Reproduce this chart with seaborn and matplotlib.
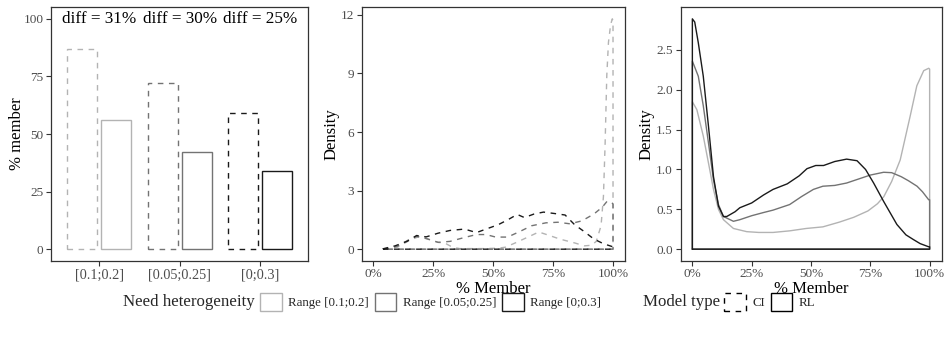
import matplotlib
matplotlib.use("Agg")
import matplotlib.pyplot as plt
import seaborn as sns
import pandas as pd
import numpy as np
from matplotlib.patches import Patch

# ---------------- data ----------------
ranges = ["[0.1;0.2]", "[0.05;0.25]", "[0;0.3]"]
range_labels = ["Range [0.1;0.2]", "Range [0.05;0.25]", "Range [0;0.3]"]
models = ["CI", "RL"]
pct_CI = [87, 72, 59]
pct_RL = [56, 42, 34]

# CI densities (panel 2)
ci_light_x = [4, 10, 15, 19, 23, 27, 30, 33, 36, 40, 46, 52, 55, 59, 65, 69, 73, 78, 84, 88, 91, 93, 95, 96, 96.7, 97.4, 98.1, 99, 99.7, 100]
ci_light_y = [0.0, 0.1, 0.45, 0.65, 0.5, 0.35, 0.3, 0.1, 0.03, 0.03, 0.03, 0.05, 0.1, 0.31, 0.65, 0.88, 0.72, 0.51, 0.32, 0.17, 0.2, 0.4, 1.2, 2.7, 5.4, 8.9, 10.6, 11.5, 11.8, 11.7]
ci_mid_x = [4, 10, 15, 18, 22, 27, 32, 38, 43, 47, 51, 56, 61, 66, 72, 77, 82, 87, 92, 95.5, 97.5, 99.5, 100]
ci_mid_y = [0.0, 0.15, 0.5, 0.65, 0.55, 0.35, 0.4, 0.6, 0.75, 0.75, 0.62, 0.62, 0.9, 1.2, 1.35, 1.38, 1.3, 1.45, 1.8, 2.15, 2.45, 2.4, 2.3]
ci_dark_x = [4, 9, 14, 18, 22, 27, 32, 38, 43, 47, 52, 56, 60, 63, 67, 71, 76, 80, 84, 88, 92, 96, 100]
ci_dark_y = [0.02, 0.17, 0.4, 0.7, 0.63, 0.82, 0.96, 1.03, 0.85, 1.03, 1.25, 1.5, 1.78, 1.62, 1.8, 1.9, 1.82, 1.75, 1.25, 0.9, 0.52, 0.28, 0.12]

# RL densities (panel 3)
rl_light_x = [0, 1.9, 4.6, 6.8, 8.9, 11, 13.1, 17.3, 22.9, 28, 34, 41, 48, 55, 62, 68, 74, 78, 80.7, 84, 87.6, 91.8, 94.6, 97.5, 99.6, 100]
rl_light_y = [1.85, 1.75, 1.42, 1.08, 0.75, 0.5, 0.37, 0.26, 0.22, 0.21, 0.21, 0.23, 0.26, 0.28, 0.34, 0.40, 0.48, 0.57, 0.66, 0.85, 1.12, 1.67, 2.05, 2.24, 2.27, 2.26]
rl_mid_x = [0, 2.5, 4.6, 6.8, 8.9, 11, 13.1, 17.3, 20, 25, 30, 34, 41, 46, 51, 55, 60, 65, 70, 75, 80.6, 84, 88, 91, 94.7, 97, 99.6, 100]
rl_mid_y = [2.36, 2.17, 1.8, 1.33, 0.87, 0.56, 0.41, 0.35, 0.37, 0.42, 0.46, 0.49, 0.56, 0.66, 0.75, 0.79, 0.80, 0.83, 0.88, 0.93, 0.965, 0.96, 0.91, 0.86, 0.79, 0.72, 0.62, 0.62]
rl_dark_x = [0, 1, 2.5, 4.6, 6.8, 8.9, 11, 13.1, 14.5, 18, 20, 25, 30, 34, 40, 45, 48.3, 52, 55.3, 60, 65, 69.4, 73, 76.4, 80.6, 86.2, 90, 93.2, 96, 99.6, 100]
rl_dark_y = [2.89, 2.85, 2.59, 2.17, 1.54, 0.91, 0.54, 0.41, 0.41, 0.47, 0.52, 0.58, 0.68, 0.75, 0.82, 0.92, 1.01, 1.05, 1.05, 1.1, 1.13, 1.11, 1.0, 0.83, 0.60, 0.31, 0.18, 0.12, 0.07, 0.03, 0.03]

# ---------------- style ----------------
sns.set_theme(style="white")
plt.rcParams["font.family"] = ["Liberation Serif", "DejaVu Serif"]

greys = ["#b3b3b3", "#737373", "#1a1a1a"]
border = "#333333"
tickcol = "#4d4d4d"
LW = 1.0
DASH = (0, (4, 4))

fig = plt.figure(figsize=(9.44, 3.41), dpi=100)
W, H = 944, 341


def add_ax(l, r, t=7.3, b=260.7):
    return fig.add_axes([l / W, 1 - b / H, (r - l) / W, (b - t) / H])


ax1 = add_ax(51, 308.3)
ax2 = add_ax(361.5, 625)
ax3 = add_ax(680.5, 941.5)


def style_ax(ax):
    for s in ax.spines.values():
        s.set_color(border)
        s.set_linewidth(0.9)
    ax.tick_params(axis="both", which="both", direction="out", length=3.5, width=0.8,
                   color=border, labelcolor=tickcol, labelsize=9.5, pad=2,
                   bottom=True, left=True)
    ax.grid(False)
    ax.set_facecolor("white")


# ---------------- panel 1: bars ----------------
df = pd.DataFrame({
    "range": ranges * 2,
    "model": ["CI"] * 3 + ["RL"] * 3,
    "pct": pct_CI + pct_RL,
})
sns.barplot(data=df, x="range", y="pct", hue="model", order=ranges, hue_order=models,
            width=0.85, gap=0.12, color="white", legend=False, ax=ax1, errorbar=None)
for hi, cont in enumerate(ax1.containers):
    for ci, bar in enumerate(cont):
        bar.set_facecolor("white")
        bar.set_edgecolor(greys[ci])
        bar.set_linewidth(LW)
        bar.set_linestyle(DASH if models[hi] == "CI" else "-")
for i in range(3):
    ax1.text(i, 100, f"diff = {pct_CI[i] - pct_RL[i]}%", ha="center", va="center",
             fontsize=12.3, color="black")
ax1.set_xlim(-0.6, 2.6)
ax1.set_ylim(-5, 105)
ax1.set_yticks([0, 25, 50, 75, 100])
ax1.set_xlabel("")
ax1.set_ylabel("% member", fontsize=12, color="black", labelpad=-1)
style_ax(ax1)
ax1.tick_params(axis="x", labelsize=10.3)


# ---------------- density panels ----------------
def outline(x, y):
    xs = [x[0]] + list(x) + [x[-1], x[0]]
    ys = [0] + list(y) + [0, 0]
    return xs, ys


ci_sets = [(ci_light_x, ci_light_y), (ci_mid_x, ci_mid_y), (ci_dark_x, ci_dark_y)]
rl_sets = [(rl_light_x, rl_light_y), (rl_mid_x, rl_mid_y), (rl_dark_x, rl_dark_y)]

for ax, sets, ls, lp in [(ax2, ci_sets, DASH, 0.4), (ax3, rl_sets, "-", 1.0)]:
    for k, (x, y) in enumerate(sets):
        xs, ys = outline(x, y)
        sns.lineplot(x=xs, y=ys, sort=False, estimator=None, color=greys[k],
                     linewidth=LW, ax=ax)
        ax.lines[-1].set_linestyle(ls)
    ax.set_xlim(-5, 105)
    ax.set_xticks([0, 25, 50, 75, 100])
    ax.set_xticklabels(["0%", "25%", "50%", "75%", "100%"])
    ax.set_xlabel("% Member", fontsize=12, color="black", labelpad=0.5)
    ax.set_ylabel("Density", fontsize=12, color="black", labelpad=lp)
    style_ax(ax)

ax2.set_ylim(-0.59, 12.39)
ax2.set_yticks([0, 3, 6, 9, 12])
ax3.set_ylim(-0.1445, 3.035)
ax3.set_yticks([0, 0.5, 1.0, 1.5, 2.0, 2.5])
ax3.set_yticklabels(["0.0", "0.5", "1.0", "1.5", "2.0", "2.5"])

# ---------------- legends ----------------
ly = 1 - 302 / H
LFS = 9.3
leg_kw = dict(loc="center left", frameon=False, fontsize=LFS, handlelength=1.68,
              handleheight=1.75, handletextpad=0.5, columnspacing=0.45,
              borderpad=0, borderaxespad=0)
fig.text(255 / W, ly, "Need heterogeneity", fontsize=12.2, ha="right", va="center")
h1 = [Patch(facecolor="white", edgecolor=c, linewidth=LW) for c in greys]
fig.legend(h1, range_labels, bbox_to_anchor=(260 / W, ly), ncol=3, **leg_kw)
fig.text(720 / W, ly, "Model type", fontsize=12.2, ha="right", va="center")
h2 = [Patch(facecolor="white", edgecolor="black", linewidth=LW, linestyle=DASH),
      Patch(facecolor="white", edgecolor="black", linewidth=LW)]
fig.legend(h2, models, bbox_to_anchor=(724 / W, ly), ncol=2, **leg_kw)

fig.savefig("out.png", dpi=100, facecolor="white")
